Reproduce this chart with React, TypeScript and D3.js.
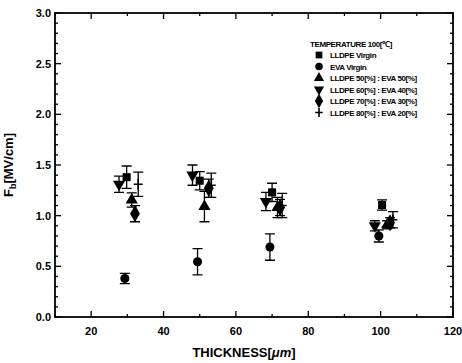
import { useEffect, useRef } from 'react';
import * as d3 from 'd3';

// Series data: [thickness (um), Fb (MV/cm), error]
const seriesNames = [
  'LLDPE Virgin',
  'EVA Virgin',
  'LLDPE 50[%] : EVA 50[%]',
  'LLDPE 60[%] : EVA 40[%]',
  'LLDPE 70[%] : EVA 30[%]',
  'LLDPE 80[%] : EVA 20[%]',
];
const seriesSymbols = ['square', 'circle', 'up', 'down', 'diamond', 'plus'];

const lldpeVirgin = [[29.8, 1.38, 0.11], [50.0, 1.345, 0.09], [70.0, 1.23, 0.09], [100.4, 1.105, 0.05]];
const evaVirgin = [[29.3, 0.38, 0.05], [49.4, 0.545, 0.13], [69.4, 0.69, 0.13], [99.5, 0.80, 0.06]];
const blend50 = [[31.2, 1.155, 0.07], [51.3, 1.09, 0.15], [71.5, 1.08, 0.10], [101.8, 0.91, 0.04]];
const blend60 = [[27.7, 1.31, 0.08], [48.0, 1.40, 0.10], [68.3, 1.14, 0.09], [98.4, 0.90, 0.05]];
const blend70 = [[32.1, 1.02, 0.08], [52.5, 1.27, 0.09], [72.2, 1.08, 0.08], [102.6, 0.93, 0.05]];
const blend80 = [[33.0, 1.31, 0.12], [53.2, 1.30, 0.12], [72.8, 1.10, 0.12], [103.4, 0.96, 0.08]];
const allSeries = [lldpeVirgin, evaVirgin, blend50, blend60, blend70, blend80];

const xTicks = [20, 40, 60, 80, 100, 120];
const yTicks = [0.0, 0.5, 1.0, 1.5, 2.0, 2.5, 3.0];

const W = 462;
const H = 363;

function drawSymbol(g: d3.Selection<SVGGElement, unknown, null, undefined>, kind: string, x: number, y: number, s: number) {
  if (kind === 'plus') {
    g.append('path')
      .attr('d', `M${x - s * 0.5},${y}H${x + s * 0.5}M${x},${y - s * 0.6}V${y + s * 0.6}`)
      .attr('stroke', '#000').attr('stroke-width', 1.6).attr('fill', 'none');
    return;
  }
  const type = kind === 'square' ? d3.symbolSquare
    : kind === 'circle' ? d3.symbolCircle
    : kind === 'diamond' ? d3.symbolDiamond
    : d3.symbolTriangle;
  const size = kind === 'square' ? s * s * 0.8 : kind === 'diamond' ? s * s * 1.05 : s * s * 0.8;
  g.append('path')
    .attr('d', d3.symbol().type(type).size(size)() as string)
    .attr('transform', `translate(${x},${y})${kind === 'down' ? ' rotate(180)' : ''}`)
    .attr('fill', '#000');
}

export default function App() {
  const svgRef = useRef<SVGSVGElement>(null);

  useEffect(() => {
    if (!svgRef.current) return;
    d3.select(svgRef.current).selectAll('*').remove();

    const margin = { top: 13, right: 9, bottom: 46, left: 55 };
    const cw = W - margin.left - margin.right;
    const ch = H - margin.top - margin.bottom;

    const svg = d3.select(svgRef.current)
      .attr('width', W)
      .attr('height', H)
      .style('font-family', '"Liberation Sans", Arial, sans-serif');

    svg.append('rect').attr('width', W).attr('height', H).attr('fill', '#fff');

    const g = svg.append('g').attr('transform', `translate(${margin.left},${margin.top})`);

    const x = d3.scaleLinear().domain([10, 120]).range([0, cw]);
    const y = d3.scaleLinear().domain([0, 3]).range([ch, 0]);

    // Frame
    g.append('rect')
      .attr('width', cw).attr('height', ch)
      .attr('fill', 'none').attr('stroke', '#000').attr('stroke-width', 1.8);

    // Ticks (inward on all four sides)
    const xMinor = d3.range(10, 121, 10);
    const yMinor = d3.range(0, 3.001, 0.1);
    const tick = (x1: number, y1: number, x2: number, y2: number) =>
      g.append('line').attr('x1', x1).attr('y1', y1).attr('x2', x2).attr('y2', y2)
        .attr('stroke', '#000').attr('stroke-width', 1.3);
    xMinor.forEach(v => {
      const major = v % 20 === 0;
      const l = major ? 6 : 3;
      tick(x(v), ch, x(v), ch - l);
      tick(x(v), 0, x(v), l);
    });
    yMinor.forEach(v => {
      const major = Math.abs(v * 2 - Math.round(v * 2)) < 1e-6;
      const l = major ? 6 : 3;
      tick(0, y(v), l, y(v));
      tick(cw, y(v), cw - l, y(v));
    });

    // Tick labels
    g.selectAll('.xl').data(xTicks).enter().append('text')
      .attr('x', d => x(d)).attr('y', ch + 18)
      .attr('text-anchor', 'middle')
      .style('font-size', '11px').style('font-weight', 'bold')
      .text(d => d);
    g.selectAll('.yl').data(yTicks).enter().append('text')
      .attr('x', -4).attr('y', d => y(d) + 4)
      .attr('text-anchor', 'end')
      .style('font-size', '11px').style('font-weight', 'bold')
      .text(d => d.toFixed(1));

    // Axis titles
    const xt = g.append('text')
      .attr('x', cw / 2 - 10).attr('y', ch + 40)
      .attr('text-anchor', 'middle')
      .style('font-size', '13px').style('font-weight', 'bold');
    xt.append('tspan').text('THICKNESS[');
    xt.append('tspan').style('font-style', 'italic').text('\u03bcm');
    xt.append('tspan').text(']');

    const yt = g.append('text')
      .attr('transform', `translate(-42,${ch / 2}) rotate(-90)`)
      .attr('text-anchor', 'middle')
      .style('font-size', '13px').style('font-weight', 'bold');
    yt.append('tspan').text('F');
    yt.append('tspan').attr('dy', 3).style('font-size', '9px').text('b');
    yt.append('tspan').attr('dy', -3).text('[MV/cm]');

    // Error bars and markers
    allSeries.forEach((data, i) => {
      data.forEach(([tx, fb, err]) => {
        const px = x(tx);
        const capW = 5;
        g.append('path')
          .attr('d', `M${px},${y(fb + err)}V${y(fb - err)}M${px - capW},${y(fb + err)}H${px + capW}M${px - capW},${y(fb - err)}H${px + capW}`)
          .attr('stroke', '#000').attr('stroke-width', 1.3).attr('fill', 'none');
        drawSymbol(g, seriesSymbols[i], px, y(fb), 9);
      });
    });

    // Legend
    const lg = svg.append('g').attr('transform', 'translate(310,44)');
    lg.append('text')
      .attr('x', 0).attr('y', 3)
      .style('font-size', '8px').style('font-weight', 'bold').style('letter-spacing', '-0.4px')
      .text('TEMPERATURE 100[\u2103]');
    seriesNames.forEach((name, i) => {
      const ly = 11 + i * 11.5;
      drawSymbol(lg, seriesSymbols[i], 9, ly, 7.5);
      lg.append('text')
        .attr('x', 20).attr('y', ly + 3)
        .style('font-size', '8px').style('font-weight', 'bold').style('letter-spacing', '-0.4px')
        .text(name);
    });
  }, []);

  return (
    <div style={{ position: 'fixed', left: 0, top: 0 }}>
      <svg ref={svgRef} style={{ display: 'block' }} />
    </div>
  );
}
